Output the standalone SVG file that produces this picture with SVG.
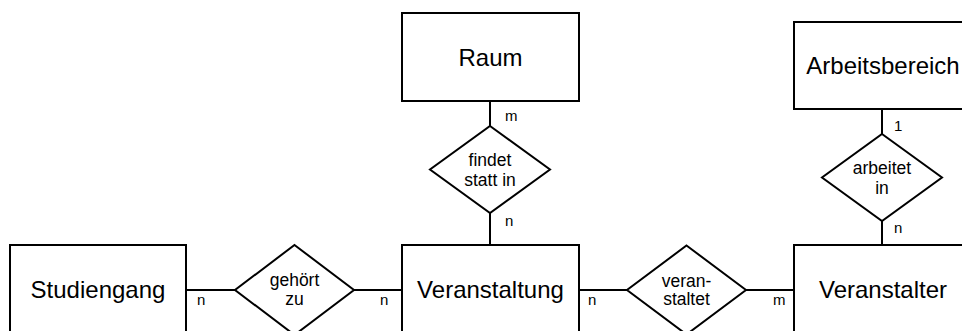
<svg xmlns="http://www.w3.org/2000/svg" width="962" height="331" viewBox="0 0 962 331">
<style>
.e{fill:#fff;stroke:#000;stroke-width:2}
.r{fill:#fff;stroke:#000;stroke-width:2}
.c{stroke:#000;stroke-width:2;fill:none}
text{font-family:"Liberation Sans",Arial,sans-serif;fill:#000}
.et{font-size:24px;text-anchor:middle}
.rt{font-size:17.5px;text-anchor:middle}
.lb{font-size:15px}
</style>
<rect width="962" height="331" fill="#fff"/>
<g id="connectors">
<line class="c" x1="490" y1="101" x2="490" y2="126"/>
<line class="c" x1="490" y1="213" x2="490" y2="245"/>
<line class="c" x1="882" y1="109" x2="882" y2="134"/>
<line class="c" x1="882" y1="221" x2="882" y2="245"/>
<line class="c" x1="186" y1="290" x2="235" y2="290"/>
<line class="c" x1="354" y1="290" x2="402" y2="290"/>
<line class="c" x1="579" y1="290" x2="627" y2="290"/>
<line class="c" x1="746" y1="290" x2="794" y2="290"/>
<text class="lb" x="505" y="121">m</text>
<text class="lb" x="505" y="226">n</text>
<text class="lb" x="894" y="131">1</text>
<text class="lb" x="894" y="233">n</text>
<text class="lb" x="197" y="305">n</text>
<text class="lb" x="380" y="305">n</text>
<text class="lb" x="588" y="305">n</text>
<text class="lb" x="773" y="305">m</text>
</g>
<g id="raum">
<rect class="e" x="402" y="13" width="177" height="88"/>
<text class="et" x="490.5" y="65.5">Raum</text>
</g>
<g id="arbeitsbereich">
<rect class="e" x="794" y="22" width="177" height="87"/>
<text class="et" x="883" y="74">Arbeitsbereich</text>
</g>
<g id="studiengang">
<rect class="e" x="10" y="245" width="176" height="90"/>
<text class="et" x="98" y="298">Studiengang</text>
</g>
<g id="veranstaltung">
<rect class="e" x="402" y="245" width="177" height="90"/>
<text class="et" x="490.5" y="298">Veranstaltung</text>
</g>
<g id="veranstalter">
<rect class="e" x="794" y="245" width="177" height="90"/>
<text class="et" x="883" y="298">Veranstalter</text>
</g>
<g id="findet-statt-in">
<polygon class="r" points="490,126 550,169.5 490,213 430,169.5"/>
<text class="rt" x="490" y="165.5">findet</text>
<text class="rt" x="490" y="186">statt in</text>
</g>
<g id="arbeitet-in">
<polygon class="r" points="882,134 942,177.5 882,221 822,177.5"/>
<text class="rt" x="882" y="174">arbeitet</text>
<text class="rt" x="882" y="193.5">in</text>
</g>
<g id="gehoert-zu">
<polygon class="r" points="294.5,245 354,290 294.5,335 235,290"/>
<text class="rt" x="294.5" y="286">gehört</text>
<text class="rt" x="294.5" y="305">zu</text>
</g>
<g id="veranstaltet">
<polygon class="r" points="686.5,245.5 746,290 686.5,334.5 627,290"/>
<text class="rt" x="686.5" y="286.5">veran-</text>
<text class="rt" x="686.5" y="305">staltet</text>
</g>
</svg>
